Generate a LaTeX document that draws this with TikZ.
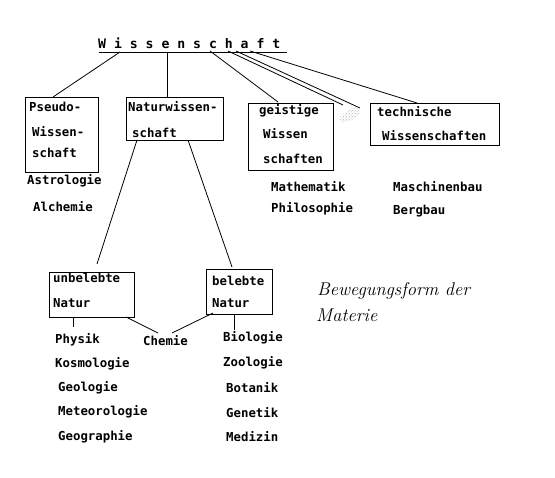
\documentclass[tikz,border=0pt]{standalone}
\usepackage{fontspec}
\setmainfont{DejaVu Sans Mono}
\usetikzlibrary{patterns}
\begin{document}
\begin{tikzpicture}[x=1bp,y=-1bp,
  box/.style={draw,line width=0.9bp,inner sep=0,outer sep=0,anchor=north west},
  lbl/.style={anchor=west,inner sep=0,font=\fontsize{12.4}{14}\selectfont\bfseries},
  script/.style={anchor=west,inner sep=0,font=\fontfamily{lmr}\fontsize{18.5}{20}\selectfont\itshape},
  conn/.style={line width=0.8bp}]
\path[use as bounding box,fill=white] (0,0) rectangle (555,478);
% title
\node[lbl,font=\fontsize{13.2}{15}\selectfont\bfseries] (title) at (98,43) {W i s s e n s c h a f t};
\coordinate (ulA) at (99,52);
\coordinate (ulB) at (287,52);
\draw[conn] (ulA) -- (ulB);
% boxes
\node[box,minimum width=73bp,minimum height=75bp] (pseudo) at (25,97) {};
\node[box,minimum width=97bp,minimum height=43bp] (natur) at (126,97) {};
\node[box,minimum width=85bp,minimum height=67bp] (geist) at (248,103) {};
\node[box,minimum width=129bp,minimum height=42bp] (tech) at (370,103) {};
\node[box,minimum width=85bp,minimum height=45bp] (unbel) at (49,272) {};
\node[box,minimum width=66bp,minimum height=45bp] (bel) at (206,269) {};
% box texts
\node[lbl] (ps1) at (29,107) {Pseudo-};
\node[lbl] (ps2) at (32,132) {Wissen-};
\node[lbl] (ps3) at (32,153) {schaft};
\node[lbl] (nw1) at (128,107) {Naturwissen-};
\node[lbl] (nw2) at (132,133) {schaft};
\node[lbl] (gw1) at (259,111) {geistige};
\node[lbl] (gw2) at (263,134) {Wissen};
\node[lbl] (gw3) at (263,159) {schaften};
\node[lbl] (tw1) at (377,112) {technische};
\node[lbl] (tw2) at (382,136) {Wissenschaften};
\node[lbl] (ub1) at (53,278) {unbelebte};
\node[lbl] (ub2) at (53,303) {Natur};
\node[lbl] (bl1) at (212,281) {belebte};
\node[lbl] (bl2) at (212,303) {Natur};
% lists
\node[lbl] (astro) at (27,181) {Astrologie};
\node[lbl] (alch) at (33,207) {Alchemie};
\node[lbl] (math) at (271,187) {Mathematik};
\node[lbl] (philo) at (271,209) {Philosophie};
\node[lbl] (masch) at (393,187) {Maschinenbau};
\node[lbl] (berg) at (393,211) {Bergbau};
\node[lbl] (phys) at (55,340) {Physik};
\node[lbl] (chem) at (143,341) {Chemie};
\node[lbl] (bio) at (223,338) {Biologie};
\node[lbl] (kosmo) at (55,364) {Kosmologie};
\node[lbl] (geolo) at (58,388) {Geologie};
\node[lbl] (meteo) at (58,412) {Meteorologie};
\node[lbl] (geogr) at (58,437) {Geographie};
\node[lbl] (zoo) at (223,363) {Zoologie};
\node[lbl] (bota) at (226,388) {Botanik};
\node[lbl] (gene) at (226,413) {Genetik};
\node[lbl] (medi) at (226,437) {Medizin};
\node[script] (bew1) at (317,291) {Bewegungsform der};
\node[script] (bew2) at (316,315) {Materie};
% connector endpoints
\coordinate (s1) at (120,52);  \coordinate (e1) at (53,97);
\coordinate (s2) at (167,52);  \coordinate (e2) at (167,97);
\coordinate (s3) at (210,51);  \coordinate (e3) at (278,102);
\coordinate (s4) at (228,51);  \coordinate (e4) at (343,105);
\coordinate (s5) at (236,51);  \coordinate (e5) at (360,108);
\coordinate (s6) at (250,51);  \coordinate (e6) at (417,103);
\coordinate (n1) at (137,140); \coordinate (f1) at (97,264);
\coordinate (n2) at (188,140); \coordinate (f2) at (232,267);
\coordinate (u1) at (73,317);  \coordinate (u2) at (73,327);
\coordinate (b1) at (234,314); \coordinate (b2) at (234,330);
\coordinate (c1) at (126,317); \coordinate (c2) at (158,333);
\coordinate (c3) at (172,333); \coordinate (c4) at (213,313);
\draw[conn] (s1) -- (e1);
\draw[conn] (s2) -- (e2);
\draw[conn] (s3) -- (e3);
\draw[conn] (s4) -- (e4);
\draw[conn] (s5) -- (e5);
\draw[conn] (s6) -- (e6);
\draw[conn] (n1) -- (f1);
\draw[conn] (n2) -- (f2);
\draw[conn] (u1) -- (u2);
\draw[conn] (b1) -- (b2);
\draw[conn] (c1) -- (c2);
\draw[conn] (c3) -- (c4);
% speckled smudge
\fill[pattern=crosshatch dots,pattern color=gray!70,rotate around={30:(350,115)}] (350,115) ellipse [x radius=12,y radius=5];
\end{tikzpicture}
\end{document}
